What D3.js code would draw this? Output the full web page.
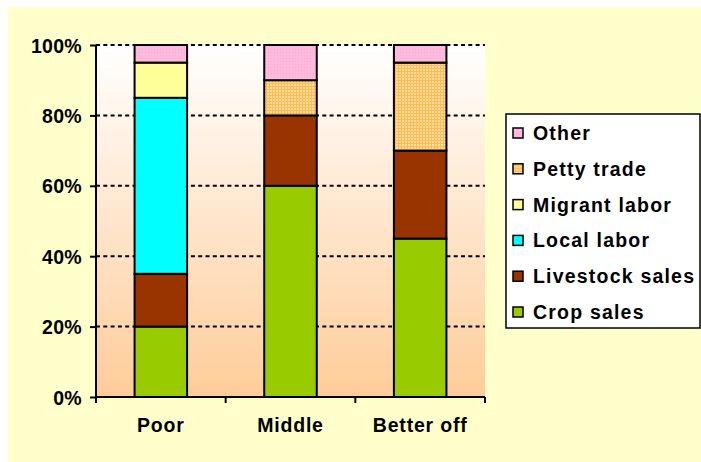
<!DOCTYPE html>
<html>
<head>
<meta charset="utf-8">
<script src="https://cdn.jsdelivr.net/npm/d3@7"></script>
<style>
  html, body { margin: 0; padding: 0; background: #ffffff; }
  svg { display: block; }
  text { font-family: "Liberation Sans", Arial, sans-serif; font-weight: bold; fill: #000; }
</style>
</head>
<body>
<svg id="chart" width="701" height="462"></svg>
<script>
// Income sources by wealth group (percent of total income)
const categories = ["Poor", "Middle", "Better off"];
const seriesNames = ["Crop sales", "Livestock sales", "Local labor", "Migrant labor", "Petty trade", "Other"];
const cropSales      = [20, 60, 45];
const livestockSales = [15, 20, 25];
const localLabor     = [50, 0, 0];
const migrantLabor   = [10, 0, 0];
const pettyTrade     = [0, 10, 25];
const other          = [5, 10, 5];
const yTicks = [0, 20, 40, 60, 80, 100];

const seriesValues = [cropSales, livestockSales, localLabor, migrantLabor, pettyTrade, other];
const fills = ["#99cc00", "#993300", "#00ffff", "#ffff99", "url(#petty)", "url(#other)"];

const rows = categories.map((c, i) => {
  const r = { category: c };
  seriesNames.forEach((s, k) => { r[s] = seriesValues[k][i]; });
  return r;
});

const svg = d3.select("#chart");
const W = 701, H = 462;
const plot = { left: 96, right: 485, top: 45, bottom: 397 };

// Patterns and plot-area gradient
const defs = svg.append("defs");
const grad = defs.append("linearGradient").attr("id", "plotBg")
  .attr("x1", 0).attr("y1", 0).attr("x2", 0).attr("y2", 1);
grad.append("stop").attr("offset", "0%").attr("stop-color", "#ffffff");
grad.append("stop").attr("offset", "100%").attr("stop-color", "#ffcc99");

const petty = defs.append("pattern").attr("id", "petty")
  .attr("patternUnits", "userSpaceOnUse").attr("width", 3).attr("height", 3);
petty.append("rect").attr("width", 3).attr("height", 3).attr("fill", "#ffbb55");
petty.append("rect").attr("width", 2).attr("height", 2).attr("fill", "#ffdd99");

const oth = defs.append("pattern").attr("id", "other")
  .attr("patternUnits", "userSpaceOnUse").attr("width", 3).attr("height", 3);
oth.append("rect").attr("width", 3).attr("height", 3).attr("fill", "#ffbbdd");
oth.append("rect").attr("x", 1).attr("y", 1).attr("width", 1).attr("height", 1).attr("fill", "#ffaad4");

// Chart background
svg.append("rect").attr("x", 8).attr("y", 7).attr("width", W - 8).attr("height", H - 7).attr("fill", "#ffffcc");
svg.append("rect").attr("x", plot.left).attr("y", plot.top)
  .attr("width", plot.right - plot.left).attr("height", plot.bottom - plot.top)
  .attr("fill", "url(#plotBg)");

const x = d3.scaleBand().domain(categories).range([plot.left, plot.right]).padding(0);
const y = d3.scaleLinear().domain([0, 100]).range([plot.bottom, plot.top]);

// Dashed gridlines
svg.append("g").selectAll("line").data(yTicks.filter(t => t > 0)).join("line")
  .attr("x1", plot.left).attr("x2", plot.right)
  .attr("y1", d => y(d)).attr("y2", d => y(d))
  .attr("stroke", "#000").attr("stroke-width", 2).attr("stroke-dasharray", "4,3.3");

// Stacked bars
const stack = d3.stack().keys(seriesNames)(rows);
const barW = x.bandwidth() * 0.405;
const layers = svg.append("g").selectAll("g").data(stack).join("g")
  .attr("fill", (d, i) => fills[i]);
layers.selectAll("rect").data(d => d.filter(p => p[1] - p[0] > 0)).join("rect")
  .attr("x", d => x(d.data.category) + (x.bandwidth() - barW) / 2)
  .attr("width", barW)
  .attr("y", d => y(d[1]))
  .attr("height", d => y(d[0]) - y(d[1]))
  .attr("stroke", "#000").attr("stroke-width", 2);

// Y axis
const yAxis = svg.append("g").attr("transform", `translate(${plot.left},0)`)
  .call(d3.axisLeft(y).tickValues(yTicks).tickFormat(d => d + "%").tickSize(6).tickPadding(8));
yAxis.select(".domain").attr("stroke", "#000").attr("stroke-width", 2).attr("d", `M0,${plot.top}V${plot.bottom}`);
yAxis.selectAll(".tick line").attr("stroke", "#000").attr("stroke-width", 2);
yAxis.selectAll("text").attr("font-size", "19.5px").attr("dy", "0.36em").attr("font-weight", "bold")
  .attr("letter-spacing", "0.3px");

// X axis with ticks on category boundaries
const xAxis = svg.append("g").attr("transform", `translate(0,${plot.bottom})`);
xAxis.append("line").attr("x1", plot.left).attr("x2", plot.right)
  .attr("stroke", "#000").attr("stroke-width", 2);
const bounds = categories.map(c => x(c)).concat([x(categories[categories.length - 1]) + x.bandwidth()]);
xAxis.selectAll(".bt").data(bounds).join("line")
  .attr("x1", d => d).attr("x2", d => d).attr("y1", 0).attr("y2", 6)
  .attr("stroke", "#000").attr("stroke-width", 2);
xAxis.selectAll("text").data(categories).join("text")
  .attr("x", d => x(d) + x.bandwidth() / 2).attr("y", 35)
  .attr("text-anchor", "middle").attr("font-size", "19.5px").attr("letter-spacing", "0.8px")
  .text(d => d);

// Legend
const legend = svg.append("g");
legend.append("rect").attr("x", 506).attr("y", 114).attr("width", 194).attr("height", 214)
  .attr("fill", "#fff").attr("stroke", "#000").attr("stroke-width", 1.5);
const legendOrder = seriesNames.map((s, i) => ({ name: s, fill: fills[i] })).reverse();
const items = legend.selectAll("g.item").data(legendOrder).join("g")
  .attr("transform", (d, i) => `translate(0,${133 + i * 35.8})`);
items.append("rect").attr("x", 513).attr("y", -5).attr("width", 10).attr("height", 10)
  .attr("fill", d => d.fill).attr("stroke", "#000").attr("stroke-width", 1.5);
items.append("text").attr("x", 533).attr("y", 0).attr("dy", "0.36em")
  .attr("font-size", "19.5px").attr("letter-spacing", "1.2px").text(d => d.name);
</script>
</body>
</html>
